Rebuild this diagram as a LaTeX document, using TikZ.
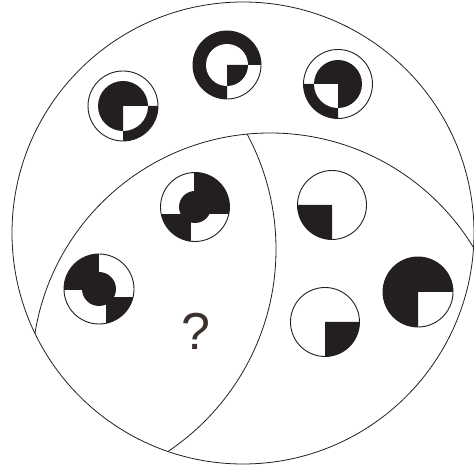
\documentclass[tikz,border=0pt]{standalone}
\usepackage{fontspec}
\setmainfont{Liberation Sans}
\usetikzlibrary{calc}
\definecolor{ink}{RGB}{35,31,32}
\definecolor{qcol}{RGB}{60,50,45}
\tikzset{
  frame/.style={draw=ink,line width=0.8pt},
  iconline/.style={draw=ink,line width=0.9pt},
  blk/.style={fill=ink},
}
\begin{document}
\begin{tikzpicture}[x=1pt,y=1pt]
\useasboundingbox (0,0) rectangle (474,471);
\fill[white] (0,0) rectangle (474,471);

% big circles
\coordinate (O) at (243,238);
\coordinate (L) at (270,100);
\coordinate (V) at (32.7,221.8);
\draw[frame] (O) circle (231);
\begin{scope}
  \clip (O) circle (231);
  \draw[frame] (L) circle (238);
  \clip (L) circle (238);
  \draw[frame] (V) circle (243.3);
\end{scope}

% icon A
\coordinate (A) at (123,365);
\fill[blk] (A) -- ++(0:35) arc[start angle=0,end angle=-90,radius=35] -- cycle;
\fill[white] (A) -- ++(0:25) arc[start angle=0,end angle=-90,radius=25] -- cycle;
\fill[blk] (A) -- ++(0:25) arc[start angle=0,end angle=270,radius=25] -- cycle;
\draw[iconline] (A) circle (35);

% icon B
\coordinate (B) at (227,406);
\fill[blk] (B) -- ++(0:34) arc[start angle=0,end angle=270,radius=34] -- cycle;
\fill[white] (B) -- ++(0:21) arc[start angle=0,end angle=270,radius=21] -- cycle;
\fill[blk] (B) -- ++(0:21) arc[start angle=0,end angle=-90,radius=21] -- cycle;
\draw[iconline] (B) circle (34);

% icon C
\coordinate (C) at (338,387);
\fill[blk] (C) -- ++(180:34.5) arc[start angle=180,end angle=270,radius=34.5] -- cycle;
\fill[white] (C) -- ++(180:24) arc[start angle=180,end angle=270,radius=24] -- cycle;
\fill[blk] (C) -- ++(270:24) arc[start angle=270,end angle=540,radius=24] -- cycle;
\draw[iconline] (C) circle (34.5);

% icon D
\coordinate (D) at (195,264);
\begin{scope}
  \clip (D) circle (34.5);
  \fill[blk] ($(D)+(-1,-7)$) rectangle ++(60,60);
  \fill[blk] ($(D)+(-4,-7)$) rectangle ++(-60,-60);
\end{scope}
\fill[blk] (D) circle (16);
\draw[iconline] (D) circle (34.5);

% icon E
\coordinate (E) at (99,182);
\begin{scope}
  \clip (E) circle (35);
  \fill[blk] ($(E)+(0,-1)$) rectangle ++(-60,60);
  \fill[blk] ($(E)+(7,-8)$) rectangle ++(60,-60);
\end{scope}
\fill[blk] (E) circle (17);
\draw[iconline] (E) circle (35);

% icon F
\coordinate (F) at (332,266);
\fill[blk] (F) -- ++(180:34.5) arc[start angle=180,end angle=270,radius=34.5] -- cycle;
\draw[iconline] (F) circle (34.5);

% icon G
\coordinate (G) at (325,149);
\fill[blk] (G) -- ++(270:34.5) arc[start angle=270,end angle=360,radius=34.5] -- cycle;
\draw[iconline] (G) circle (34.5);

% icon H
\coordinate (H) at (418,179);
\fill[blk] (H) -- ++(0:35) arc[start angle=0,end angle=270,radius=35] -- cycle;
\draw[iconline] (H) circle (35);

% question mark
\node[inner sep=0pt,text=qcol,font=\fontsize{52}{52}\selectfont] (q) at (196,140) {?};
\end{tikzpicture}
\end{document}
